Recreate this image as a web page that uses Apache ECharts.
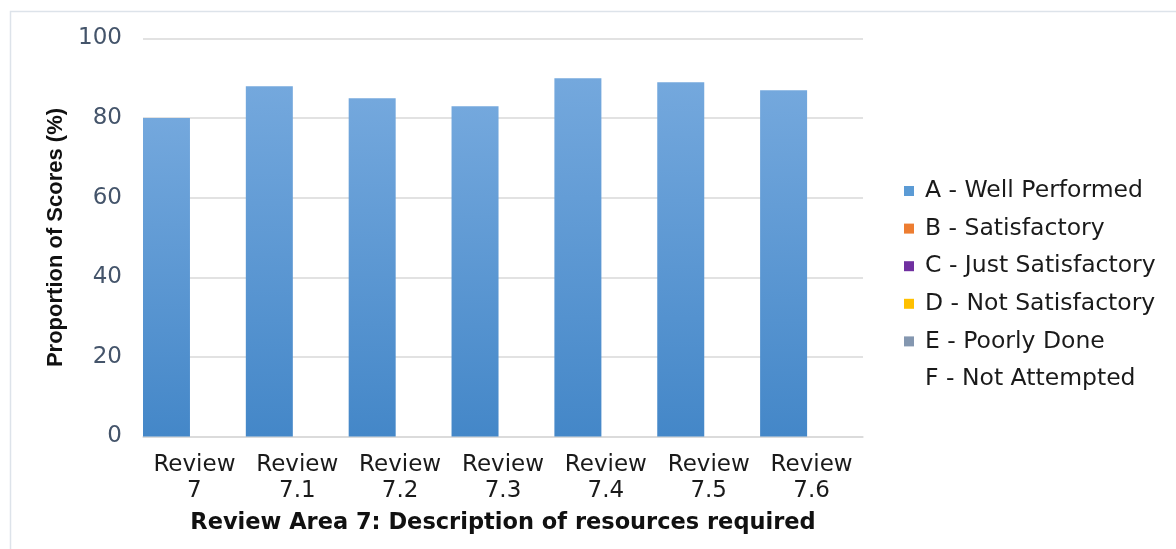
<!DOCTYPE html>
<html>
<head>
<meta charset="utf-8">
<script src="https://cdn.jsdelivr.net/npm/echarts@6/dist/echarts.min.js"></script>
<style>
  html, body { margin: 0; padding: 0; background: #ffffff; }
  #chart { width: 1176px; height: 549px; }
</style>
</head>
<body>
<div id="chart"></div>
<script>
// Review Area 7 score distribution
const categories = ['Review\n7', 'Review\n7.1', 'Review\n7.2', 'Review\n7.3', 'Review\n7.4', 'Review\n7.5', 'Review\n7.6'];
const wellPerformed = [80, 88, 85, 83, 90, 89, 87];
const satisfactory = [0, 0, 0, 0, 0, 0, 0];
const justSatisfactory = [0, 0, 0, 0, 0, 0, 0];
const notSatisfactory = [0, 0, 0, 0, 0, 0, 0];
const poorlyDone = [0, 0, 0, 0, 0, 0, 0];
const notAttempted = [0, 0, 0, 0, 0, 0, 0];
const seriesNames = ['A - Well Performed', 'B - Satisfactory', 'C - Just Satisfactory', 'D - Not Satisfactory', 'E - Poorly Done', 'F - Not Attempted'];
const yTicks = { min: 0, max: 100, interval: 20 };

const chart = echarts.init(document.getElementById('chart'), null, { renderer: 'canvas' });

const blueFill = new echarts.graphic.LinearGradient(0, 0, 0, 1, [
  { offset: 0, color: '#74a8dd' },
  { offset: 1, color: '#4487c8' }
]);

function stackSeries(name, data, color) {
  return {
    name: name,
    type: 'bar',
    stack: 'scores',
    data: data,
    barWidth: 47,
    barGap: '19%',
    itemStyle: { color: color },
    emphasis: { disabled: true }
  };
}

const option = {
  animation: false,
  backgroundColor: '#ffffff',
  graphic: [{
    type: 'rect',
    shape: { x: 10.5, y: 11.5, width: 1300, height: 700 },
    style: { fill: 'none', stroke: '#dde3ea', lineWidth: 1.5 },
    silent: true,
    z: -1
  }],
  grid: { left: 143, right: 313, top: 38.5, bottom: 112.5, containLabel: false },
  legend: {
    orient: 'vertical',
    left: 904,
    top: 178,
    padding: 0,
    itemWidth: 10,
    itemHeight: 10,
    itemGap: 11.6,
    icon: 'rect',
    selectedMode: false,
    textStyle: { fontFamily: 'DejaVu Sans', fontSize: 23.5, color: '#1a1a1a', lineHeight: 26, padding: [0, 0, 0, 6] },
    data: seriesNames.map(n => ({ name: n }))
  },
  xAxis: {
    type: 'category',
    data: categories,
    name: 'Review Area 7: Description of resources required',
    nameLocation: 'middle',
    nameGap: 75,
    nameTextStyle: { fontFamily: 'DejaVu Sans', fontWeight: 'bold', fontSize: 22.5, color: '#111111' },
    axisLine: { lineStyle: { color: '#d9d9d9', width: 1.5 } },
    axisTick: { show: false },
    axisLabel: { fontFamily: 'DejaVu Sans', fontSize: 23, color: '#1a1a1a', lineHeight: 26, margin: 16, interval: 0 }
  },
  yAxis: {
    type: 'value',
    min: yTicks.min,
    max: yTicks.max,
    interval: yTicks.interval,
    name: 'Proportion of Scores (%)',
    nameLocation: 'middle',
    nameGap: 71,
    nameTextStyle: { fontFamily: 'Liberation Sans', fontWeight: 'bold', fontSize: 22, color: '#111111' },
    axisLine: { show: false },
    axisTick: { show: false },
    splitLine: { lineStyle: { color: '#d9d9d9', width: 1.5 } },
    axisLabel: { fontFamily: 'DejaVu Sans', fontSize: 23, color: '#44546a', margin: 21 }
  },
  series: [
    stackSeries(seriesNames[0], wellPerformed, blueFill),
    stackSeries(seriesNames[1], satisfactory, '#ed7d31'),
    stackSeries(seriesNames[2], justSatisfactory, '#7030a0'),
    stackSeries(seriesNames[3], notSatisfactory, '#ffc000'),
    stackSeries(seriesNames[4], poorlyDone, '#8497b0'),
    {
      name: seriesNames[5],
      type: 'bar',
      data: notAttempted,
      barWidth: 47,
      barGap: '19%',
      itemStyle: { color: 'rgba(255,255,255,0)' },
      emphasis: { disabled: true }
    }
  ]
};

// legend swatch for A uses the flat mid-blue
option.legend.data[0].itemStyle = { color: '#5b9bd5' };

chart.setOption(option);
</script>
</body>
</html>
